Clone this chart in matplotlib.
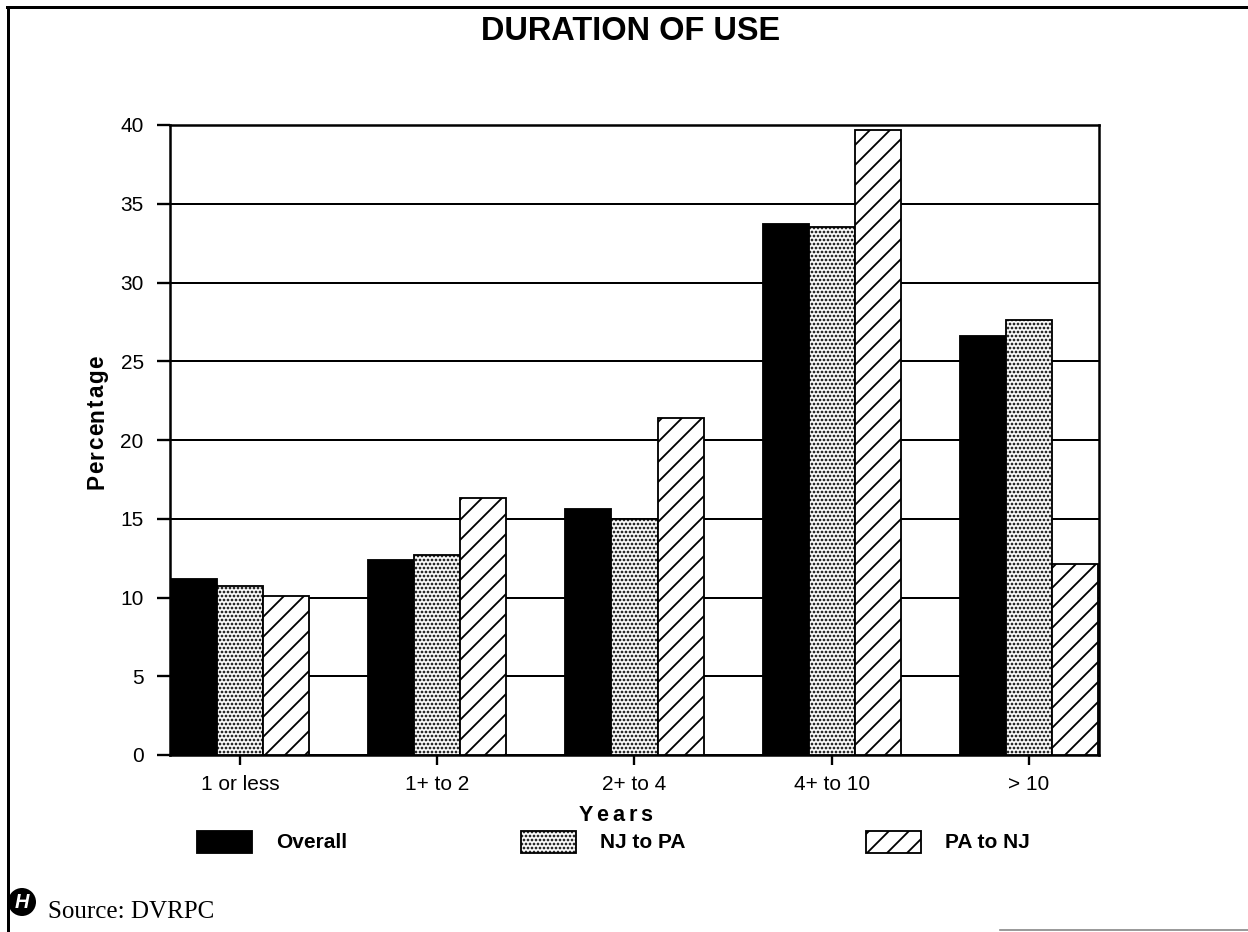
import numpy as np
import matplotlib
matplotlib.use('Agg')
import matplotlib.pyplot as plt
from matplotlib.patches import Rectangle, Ellipse
from matplotlib.lines import Line2D
from matplotlib.textpath import TextPath
from matplotlib.font_manager import FontProperties

plt.rcParams['font.family'] = ['Liberation Sans', 'DejaVu Sans']
plt.rcParams['hatch.linewidth'] = 1.1

# survey results, percent of respondents
categories = ['1 or less', '1+ to 2', '2+ to 4', '4+ to 10', '> 10']
overall = [11.2, 12.4, 15.6, 33.7, 26.6]
nj_to_pa = [10.7, 12.7, 15.0, 33.5, 27.6]
pa_to_nj = [10.1, 16.3, 21.4, 39.7, 12.1]
series_names = ['Overall', 'NJ to PA', 'PA to NJ']
yticks = [0, 5, 10, 15, 20, 25, 30, 35, 40]

# fill style per series: (facecolor, hatch)
styles = [('black', None), ('white', '.....'), ('white', '//')]

W, H = 1248, 932
DPI = 120
fig = plt.figure(figsize=(W / DPI, H / DPI), dpi=DPI)
ax = fig.add_axes([170 / W, 1 - 755 / H, (1099 - 170) / W, (755 - 125) / H])

x = np.arange(len(categories))
width = 0.234
for i, vals in enumerate([overall, nj_to_pa, pa_to_nj]):
    fc, hatch = styles[i]
    ax.bar(x + (i - 1) * width, vals, width, color=fc, hatch=hatch,
           edgecolor='black', linewidth=1.1, zorder=3)

ax.set_xlim(-0.355, len(categories) - 1 + 0.355)
ax.set_ylim(0, 40)
ax.set_yticks(yticks)
ax.set_xticks(x)
ax.set_xticklabels(categories)
ax.yaxis.grid(True, color='black', linewidth=1.2, zorder=0)
ax.set_axisbelow(True)
for s in ax.spines.values():
    s.set_linewidth(1.5)
ax.tick_params(axis='y', direction='out', length=7.8, width=1.4, pad=8, labelsize=12.5)
ax.tick_params(axis='x', direction='out', length=6, width=1.4, pad=6, labelsize=12.5)


def spaced_text(cx, cy, s, size, gap_px, vertical=False):
    # draw a letter-spaced bold label centred on (cx, cy) in pixels
    fp = FontProperties(family='Liberation Sans', weight='bold', size=size)
    widths = [TextPath((0, 0), c, prop=fp).get_extents().width * DPI / 72 if c.strip() else size * 0.3
              for c in s]
    total = sum(widths) + gap_px * (len(s) - 1)
    pos = -total / 2
    for c, w in zip(s, widths):
        mid = pos + w / 2
        if vertical:
            fig.text(cx / W, 1 - (cy - mid) / H, c, ha='center', va='center', rotation=90,
                     fontproperties=fp)
        else:
            fig.text((cx + mid) / W, 1 - cy / H, c, ha='center', va='baseline',
                     fontproperties=fp)
        pos += w + gap_px


# titles and axis labels
fig.text(631 / W, 1 - 32 / H, 'DURATION OF USE', ha='center', va='center',
         fontsize=19.5, fontweight='bold')
spaced_text(97, 422, 'Percentage', 13.5, 3.0, vertical=True)
spaced_text(615, 821, 'Years', 13, 5.0)

# legend row
legend_x = [197, 521, 866]
for i, name in enumerate(series_names):
    fc, hatch = styles[i]
    fig.add_artist(Rectangle((legend_x[i] / W, 1 - 853 / H), 55 / W, 22 / H,
                             transform=fig.transFigure, facecolor=fc, hatch=hatch,
                             edgecolor='black', linewidth=1.1))
    fig.text((legend_x[i] + 79) / W, 1 - 842 / H, name, ha='left', va='center',
             fontsize=12.5, fontweight='bold')

# page frame
fig.add_artist(Line2D([7 / W, 1], [1 - 7 / H, 1 - 7 / H], color='black', linewidth=1.8))
fig.add_artist(Line2D([8 / W, 8 / W], [0, 1 - 7 / H], color='black', linewidth=1.8))
fig.add_artist(Line2D([1000 / W, 1], [1 - 930 / H, 1 - 930 / H], color='#888888', linewidth=1.0))

# logo and source note
fig.add_artist(Ellipse((22 / W, 1 - 902 / H), 28 / W, 28 / H, transform=fig.transFigure,
                       facecolor='black', edgecolor='none'))
fig.text(22 / W, 1 - 902 / H, 'H', ha='center', va='center', color='white',
         fontsize=12, fontweight='bold', fontstyle='italic')
fig.text(48 / W, 1 - 912 / H, 'Source: DVRPC', ha='left', va='center',
         fontsize=15, family=['Liberation Serif', 'DejaVu Serif'])

fig.savefig('out.png', dpi=DPI)
